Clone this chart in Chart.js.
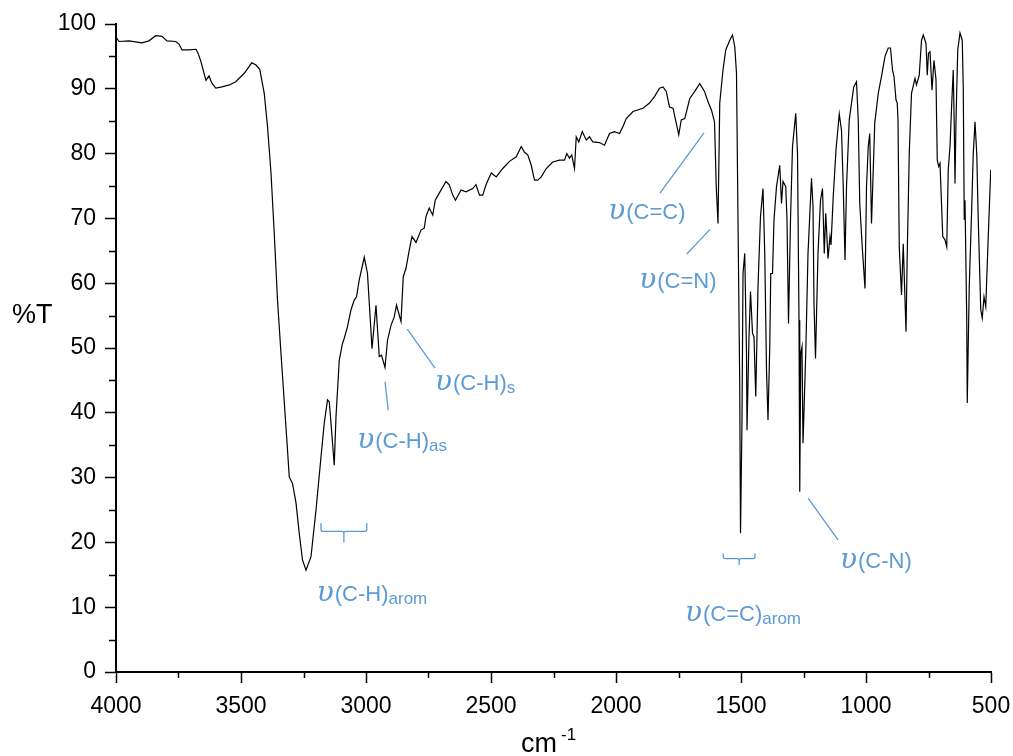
<!DOCTYPE html>
<html>
<head>
<meta charset="utf-8">
<script src="https://cdn.jsdelivr.net/npm/chart.js@4.4.0/dist/chart.umd.min.js"></script>
<style>
  html, body { margin: 0; padding: 0; background: #fff; }
</style>
</head>
<body>
<canvas id="irChart" width="1013" height="756"></canvas>
<script>
// IR spectrum (cm-1 / %T)
const wavenumber = [
  4000, 3988, 3948, 3896, 3868, 3841, 3816, 3796, 3761, 3748, 3736, 3708, 3680, 3672, 3661, 3648,
  3640, 3628, 3617, 3601, 3576, 3547, 3521, 3487, 3457, 3441, 3425, 3407, 3394, 3380, 3367, 3354,
  3341, 3314, 3307, 3294, 3280, 3267, 3254, 3240, 3220, 3200, 3180, 3167, 3154, 3147, 3140, 3127,
  3120, 3107, 3094, 3087, 3074, 3060, 3047, 3038, 3027, 3007, 2994, 2976, 2960, 2947, 2938, 2924,
  2914, 2900, 2887, 2878, 2860, 2851, 2840, 2827, 2816, 2800, 2780, 2767, 2760, 2747, 2733, 2723,
  2707, 2680, 2667, 2653, 2642, 2620, 2600, 2573, 2560, 2546, 2533, 2520, 2499, 2479, 2453, 2426,
  2399, 2379, 2366, 2353, 2339, 2326, 2313, 2299, 2279, 2253, 2226, 2206, 2197, 2186, 2177, 2166,
  2159, 2149, 2135, 2119, 2106, 2093, 2066, 2046, 2026, 2006, 1986, 1972, 1959, 1932, 1892, 1866,
  1846, 1826, 1812, 1799, 1786, 1772, 1759, 1749, 1739, 1725, 1705, 1685, 1665, 1646, 1632, 1618,
  1606, 1599, 1592, 1585, 1572, 1561, 1545, 1534, 1525, 1518, 1512, 1505, 1502, 1496, 1492, 1485,
  1478, 1476, 1468, 1462, 1454, 1448, 1441, 1432, 1422, 1412, 1405, 1398, 1392, 1385, 1381, 1374,
  1368, 1358, 1345, 1338, 1332, 1321, 1316, 1310, 1302, 1294, 1281, 1274, 1268, 1265, 1261, 1256,
  1252, 1241, 1232, 1218, 1212, 1208, 1202, 1192, 1182, 1174, 1167, 1161, 1152, 1144, 1140, 1131,
  1120, 1107, 1098, 1091, 1084, 1078, 1067, 1058, 1049, 1038, 1031, 1025, 1015, 1004, 998, 991,
  985, 978, 971, 965, 951, 938, 924, 911, 902, 894, 888, 880, 875, 872, 867, 858,
  851, 840, 835, 827, 818, 804, 798, 787, 778, 771, 760, 755, 750, 744, 736, 728,
  720, 715, 709, 704, 693, 684, 677, 671, 664, 657, 651, 647, 644, 640, 633, 624,
  615, 611, 607, 604, 597, 595, 587, 577, 571, 564, 557, 551, 541, 535, 528, 521,
  511, 501
];
const transmittance = [
  98.0, 97.3, 97.4, 97.1, 97.4, 98.2, 98.1, 97.4, 97.3, 96.9, 96.0, 96.0, 96.1, 95.5, 94.3, 92.4,
  91.3, 92.0, 90.9, 90.1, 90.3, 90.6, 91.1, 92.4, 94.0, 93.7, 93.0, 89.3, 84.2, 77.0, 67.7, 57.4,
  49.7, 34.3, 30.1, 29.1, 26.1, 21.4, 17.3, 15.7, 17.8, 25.0, 33.2, 38.4, 42.0, 41.7, 38.4, 31.9,
  39.4, 48.1, 50.7, 51.5, 53.3, 55.9, 57.4, 57.9, 60.5, 64.0, 61.5, 49.9, 56.6, 48.7, 48.9, 47.0,
  51.2, 53.5, 54.8, 56.6, 54.1, 61.0, 62.3, 65.1, 67.2, 66.3, 68.2, 68.5, 70.3, 71.6, 70.5, 72.8,
  73.9, 75.7, 75.2, 73.6, 72.8, 74.4, 74.1, 74.6, 75.2, 73.6, 73.6, 75.2, 77.0, 76.4, 77.7, 78.8,
  79.5, 81.1, 80.2, 79.8, 78.2, 75.9, 75.9, 76.4, 77.7, 78.7, 79.0, 79.0, 80.0, 79.3, 79.8, 77.7,
  82.6, 81.8, 83.4, 82.1, 82.6, 81.8, 81.7, 81.3, 83.1, 83.4, 83.1, 84.2, 85.4, 86.5, 87.0, 87.8,
  88.8, 90.1, 90.3, 89.6, 87.2, 87.0, 84.7, 82.9, 85.2, 85.4, 88.5, 89.6, 90.8, 89.6, 88.0, 86.7,
  84.9, 74.9, 69.2, 87.8, 92.9, 96.0, 97.5, 98.3, 96.5, 92.4, 69.8, 44.0, 21.4, 38.9, 61.5, 64.6,
  49.2, 37.3, 51.7, 58.7, 52.3, 51.7, 42.5, 59.5, 70.3, 74.6, 64.6, 46.6, 38.9, 50.2, 61.5, 61.5,
  69.8, 74.9, 78.2, 72.3, 75.7, 74.9, 69.8, 53.8, 69.8, 81.1, 86.2, 80.0, 54.3, 27.8, 49.2, 50.2,
  35.3, 49.2, 64.6, 76.2, 71.8, 56.9, 48.4, 64.6, 72.8, 74.6, 64.6, 70.8, 63.8, 67.2, 65.9, 73.4,
  80.6, 86.1, 83.6, 74.9, 63.6, 74.9, 85.2, 87.8, 90.3, 91.1, 85.2, 72.3, 65.6, 59.2, 74.9, 81.1,
  83.1, 69.2, 77.5, 84.7, 89.3, 91.9, 95.0, 96.3, 96.3, 92.9, 91.9, 88.3, 87.8, 85.2, 65.6, 58.2,
  66.1, 52.5, 64.6, 80.0, 89.3, 91.6, 90.6, 92.1, 97.5, 98.3, 97.0, 92.1, 95.5, 95.7, 89.8, 94.4,
  91.4, 79.0, 78.0, 78.5, 67.2, 66.7, 65.6, 77.5, 81.1, 87.8, 92.9, 84.2, 75.4, 85.2, 96.0, 98.6,
  97.5, 90.3, 69.8, 72.8, 54.3, 41.5, 59.5, 71.8, 80.0, 84.9, 80.0, 69.8, 55.9, 54.6, 57.9, 56.4,
  67.2, 77.5
];

// tick values
const xTicks = [4000, 3500, 3000, 2500, 2000, 1500, 1000, 500];
const xMinorTicks = [3750, 3250, 2750, 2250, 1750, 1250, 750];
const yTicks = [0, 10, 20, 30, 40, 50, 60, 70, 80, 90, 100];
const yMinorTicks = [5, 15, 25, 35, 45, 55, 65, 75, 85, 95];

// band assignments (text, subscript, [cm-1, %T] of text start)
const bandText = ['(C=C)', '(C=N)', '(C-H)', '(C-H)', '(C-H)', '(C=C)', '(C-N)'];
const bandSub = ['', '', 's', 'as', 'arom', 'arom', ''];
const bandAt = [[2031, 69.9], [1907, 59.2], [2724, 43.5], [3035, 34.5], [3197, 11.0], [1724, 7.8], [1104, 16.0]];
// leader lines [x1, y1, x2, y2] and braces [xFrom, xTo, yTop, yBar, yTip]
const leaders = [[1648, 83.2, 1824, 73.9], [1624, 68.3, 1717, 64.5], [2835, 52.9, 2724, 46.9], [2924, 44.8, 2911, 40.4], [1231, 26.8, 1112, 20.4]];
const braces = [[3180, 2997, 23.0, 21.7, 20.0], [1571, 1444, 18.3, 17.5, 16.5]];

const noteColor = '#5b9bd5';
const sans = '"Liberation Sans", Arial, sans-serif';

const extras = {
    id: 'extras',
    afterDraw(chart) {
        const ctx = chart.ctx;
        const sx = chart.scales.x, sy = chart.scales.y;
        ctx.save();

        // minor ticks
        ctx.strokeStyle = '#000';
        ctx.lineWidth = 1.5;
        ctx.beginPath();
        xMinorTicks.forEach(v => {
            const px = Math.round(sx.getPixelForValue(v)) + 0.5;
            ctx.moveTo(px, sy.bottom);
            ctx.lineTo(px, sy.bottom + 6);
        });
        yMinorTicks.forEach(v => {
            const py = Math.round(sy.getPixelForValue(v)) + 0.5;
            ctx.moveTo(sx.left, py);
            ctx.lineTo(sx.left - 7, py);
        });
        ctx.stroke();

        // axis titles
        ctx.fillStyle = '#000';
        ctx.textAlign = 'left';
        ctx.textBaseline = 'alphabetic';
        ctx.font = '27px ' + sans;
        ctx.fillText('%T', 12, 323);
        ctx.fillText('cm', 521, 752);
        ctx.font = '17px ' + sans;
        ctx.fillText('-1', 561, 740);

        // leaders
        ctx.strokeStyle = noteColor;
        ctx.lineWidth = 1.3;
        ctx.beginPath();
        leaders.forEach(l => {
            ctx.moveTo(sx.getPixelForValue(l[0]), sy.getPixelForValue(l[1]));
            ctx.lineTo(sx.getPixelForValue(l[2]), sy.getPixelForValue(l[3]));
        });
        // braces
        braces.forEach(b => {
            const x1 = sx.getPixelForValue(b[0]), x2 = sx.getPixelForValue(b[1]);
            const yt = sy.getPixelForValue(b[2]), yb = sy.getPixelForValue(b[3]), yTip = sy.getPixelForValue(b[4]);
            const xm = (x1 + x2) / 2;
            ctx.moveTo(x1, yt);
            ctx.lineTo(x1, yb - 2);
            ctx.quadraticCurveTo(x1, yb, x1 + 2, yb);
            ctx.lineTo(xm - 2, yb);
            ctx.quadraticCurveTo(xm, yb, xm, yb + 2);
            ctx.lineTo(xm, yTip);
            ctx.moveTo(xm, yb + 2);
            ctx.quadraticCurveTo(xm, yb, xm + 2, yb);
            ctx.lineTo(x2 - 2, yb);
            ctx.quadraticCurveTo(x2, yb, x2, yb - 2);
            ctx.lineTo(x2, yt);
        });
        ctx.stroke();

        // band labels
        ctx.fillStyle = noteColor;
        bandText.forEach((t, i) => {
            let x = sx.getPixelForValue(bandAt[i][0]);
            const y = sy.getPixelForValue(bandAt[i][1]);
            ctx.font = 'italic 28px "DejaVu Serif", serif';
            ctx.fillText('υ', x, y);
            x += ctx.measureText('υ').width + 1;
            ctx.font = '22px ' + sans;
            ctx.fillText(t, x, y);
            x += ctx.measureText(t).width;
            if (bandSub[i]) {
                ctx.font = '17px ' + sans;
                ctx.fillText(bandSub[i], x, y + 3);
            }
        });
        ctx.restore();
    }
};

const points = wavenumber.map((v, i) => ({ x: v, y: transmittance[i] }));

new Chart(document.getElementById('irChart'), {
    type: 'line',
    data: {
        datasets: [{
            data: points,
            borderColor: '#000',
            borderWidth: 1.2,
            pointRadius: 0,
            tension: 0,
            fill: false
        }]
    },
    options: {
        responsive: false,
        animation: false,
        devicePixelRatio: 1,
        layout: { padding: { top: 24, right: 22, left: 0, bottom: 0 } },
        plugins: { legend: { display: false }, tooltip: { enabled: false } },
        scales: {
            x: {
                type: 'linear',
                reverse: true,
                min: 500,
                max: 4000,
                afterFit(s) {
                    s.height = 84;
                    s.paddingLeft = 0;
                    s.paddingRight = 0;
                },
                afterBuildTicks(s) { s.ticks = xTicks.map(v => ({ value: v })); },
                ticks: {
                    color: '#000',
                    font: { family: sans, size: 23 },
                    padding: 10,
                    maxRotation: 0,
                    autoSkip: false,
                    callback: v => String(v)
                },
                grid: { drawOnChartArea: false, tickLength: 11, tickColor: '#000', tickWidth: 1.5 },
                border: { color: '#000', width: 2 }
            },
            y: {
                min: 0,
                max: 100,
                afterFit(s) { s.width = 116; },
                afterBuildTicks(s) { s.ticks = yTicks.map(v => ({ value: v })); },
                ticks: {
                    color: '#000',
                    font: { family: sans, size: 23 },
                    padding: 9,
                    callback: v => String(v)
                },
                grid: { drawOnChartArea: false, tickLength: 11, tickColor: '#000', tickWidth: 1.5 },
                border: { color: '#000', width: 2 }
            }
        }
    },
    plugins: [extras]
});
</script>
</body>
</html>
